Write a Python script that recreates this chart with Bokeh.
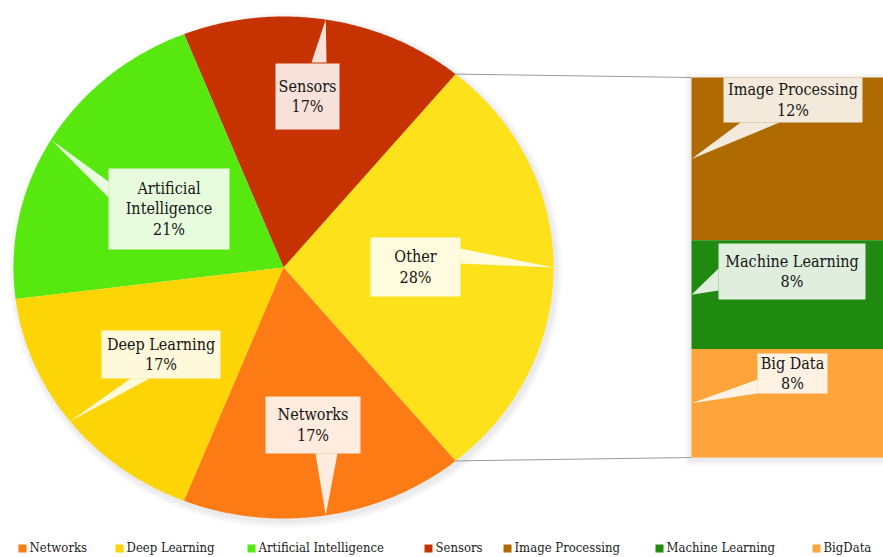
import numpy as np
from bokeh.plotting import figure
from bokeh.models import Range1d
from bokeh.core.properties import value
from bokeh.embed import file_html
from bokeh.resources import INLINE

# ---------------- data ----------------
pie_labels = ["Other", "Sensors", "Artificial Intelligence", "Deep Learning", "Networks"]
pie_values = [28, 17, 21, 17, 17]
pie_colors = ["#FDE11B", "#C63300", "#57E80F", "#FDD405", "#FD7B15"]

bar_labels = ["Image Processing", "Machine Learning", "Big Data"]
bar_values = [12, 8, 8]
bar_colors = ["#AF6A02", "#1F8A0F", "#FDA43A"]

legend_labels = ["Networks", "Deep Learning", "Artificial Intelligence", "Sensors",
                 "Image Processing", "Machine Learning", "BigData"]
legend_colors = ["#FD7B15", "#FDD405", "#57E80F", "#C63300", "#AF6A02", "#1F8A0F", "#FDA43A"]

# ---------------- layout (pixel-like data coords, y downward) ----------------
CX, CY, RX, RY = 283, 267, 270, 251
BAR_L, BAR_R, BAR_T, BAR_B = 691, 900, 77, 457
FONT = value("DejaVu Serif Condensed")
W, H = 883, 557

pie_boxes = {
    "Other": dict(cx=415, cy=266.5, w=90, h=59, base=[(460, 248), (460, 263)]),
    "Sensors": dict(cx=307, cy=96, w=64, h=66, base=[(311, 62), (326, 62)]),
    "Artificial Intelligence": dict(cx=168.5, cy=208.5, w=121, h=81, base=[(108, 181), (108, 197)], wrap=True),
    "Deep Learning": dict(cx=160.5, cy=354, w=119, h=48, base=[(130, 378), (149, 378)]),
    "Networks": dict(cx=312.5, cy=424.5, w=95, h=57, base=[(315, 453), (337, 453)]),
}
bar_boxes = {
    "Image Processing": dict(cx=792.5, cy=99.5, w=139, h=45, base=[(740, 122), (779, 122)]),
    "Machine Learning": dict(cx=791.5, cy=271, w=147, h=56, base=[(718, 268), (718, 290)]),
    "Big Data": dict(cx=792, cy=373, w=70, h=40, base=[(757, 379), (757, 393)]),
}
legend_x = [18, 115, 247, 424, 503, 655, 812]
LEGEND_Y = 547

p = figure(width=W, height=H, x_range=Range1d(0, W), y_range=Range1d(H, 0),
           output_backend="svg", toolbar_location=None, min_border=0,
           x_axis_location=None, y_axis_location=None)
p.grid.visible = False
p.outline_line_color = None
p.background_fill_color = "white"
p.border_fill_color = "white"

# soft shadows
for k in range(1, 8):
    t = np.linspace(0, 2 * np.pi, 200)
    p.patch(CX + 2 + (RX + k) * np.cos(t), CY + 3 + (RY + k) * np.sin(t),
            fill_color="black", fill_alpha=0.012, line_color=None)
    p.quad(left=BAR_L - k, right=BAR_R, top=BAR_T - k + 2, bottom=BAR_B + k + 2,
           fill_color="black", fill_alpha=0.012, line_color=None)

# pie slices (elliptical)
total = sum(pie_values)
start = -pie_values[0] / total * np.pi
angles = []
xs, ys = [], []
a0 = start
for v in pie_values:
    a1 = a0 + v / total * 2 * np.pi
    t = np.linspace(a0, a1, 120)
    xs.append(np.concatenate([[CX], CX + RX * np.cos(t)]))
    ys.append(np.concatenate([[CY], CY - RY * np.sin(t)]))
    angles.append((a0, a1))
    a0 = a1
p.patches(xs, ys, fill_color=pie_colors, line_color=None)

# bar breaking down "Other"
btotal = sum(bar_values)
scale = (BAR_B - BAR_T) / btotal
tops = BAR_T + np.concatenate([[0], np.cumsum(bar_values)[:-1]]) * scale
bottoms = BAR_T + np.cumsum(bar_values) * scale
p.quad(left=BAR_L, right=BAR_R, top=tops, bottom=bottoms, fill_color=bar_colors, line_color=None)

# connector lines
oa0, oa1 = angles[0]
p.segment(x0=[CX + RX * np.cos(oa1), CX + RX * np.cos(oa0)],
          y0=[CY - RY * np.sin(oa1), CY - RY * np.sin(oa0)],
          x1=[BAR_L, BAR_L], y1=[BAR_T, BAR_B], line_color="#9a9a9a", line_width=1)


def callout(name, val, box, tip):
    x0, x1 = box["cx"] - box["w"] / 2, box["cx"] + box["w"] / 2
    y0, y1 = box["cy"] - box["h"] / 2, box["cy"] + box["h"] / 2
    (bx1, by1), (bx2, by2) = box["base"]
    p.patch([bx1, tip[0], bx2], [by1, tip[1], by2], fill_color="white", fill_alpha=0.86, line_color=None)
    p.quad(left=x0, right=x1, top=y0, bottom=y1, fill_color="white", fill_alpha=0.86, line_color=None)
    shown = name.replace(" ", "\n") if box.get("wrap") else name
    p.text(x=[box["cx"]], y=[box["cy"]], text=[f"{shown}\n{val}%"], text_font=FONT,
           text_font_size="16px", text_align="center", text_baseline="middle",
           text_line_height=1.1, text_color="#151515")


for name, v, (a0, a1) in zip(pie_labels, pie_values, angles):
    m = (a0 + a1) / 2
    callout(name, v, pie_boxes[name], (CX + RX * np.cos(m), CY - RY * np.sin(m)))

for name, v, t0, b0 in zip(bar_labels, bar_values, tops, bottoms):
    callout(name, v, bar_boxes[name], (BAR_L, (t0 + b0) / 2))

# legend
p.rect(x=[x + 4 for x in legend_x], y=LEGEND_Y + 1, width=8, height=8, fill_color=legend_colors, line_color=None)
p.text(x=[x + 11 for x in legend_x], y=LEGEND_Y, text=legend_labels, text_font=FONT,
       text_font_size="13px", text_baseline="middle", text_align="left", text_color="#222222")

open("out.html", "w").write(file_html(p, INLINE))
